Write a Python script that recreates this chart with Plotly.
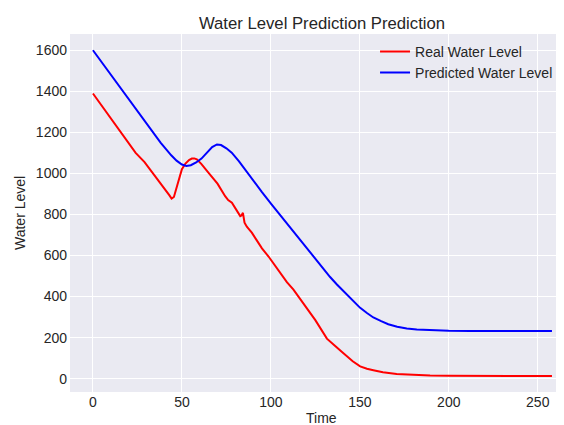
import plotly.graph_objects as go

# Real water level (time, level)
real_time = [0, 5, 10, 12.5, 16, 20, 24, 29, 35, 40, 43, 44.2, 45.5, 48, 50, 52, 54, 55.6, 57, 58.4,
             61, 65, 70, 74.3, 76, 78.1, 79, 80.5, 82.8, 83.5, 84.3, 85.2, 86.5, 88, 89.3, 92, 95,
             98.7, 102, 106, 109, 112.7, 116, 120, 125, 131.5, 133.3, 136, 140, 142.5, 146, 150.2,
             154, 157.6, 163, 170.7, 180, 189.5, 200, 212, 230, 245, 258]
real_level = [1389, 1330, 1270, 1240, 1195, 1148, 1100, 1055, 988, 932, 893, 877, 885, 960, 1020, 1048,
              1065, 1072, 1073, 1068, 1045, 1003, 950, 889, 870, 857, 845, 820, 792, 795, 808, 760,
              740, 725, 711, 675, 635, 595, 556, 505, 470, 434, 395, 345, 285, 195, 180, 160, 130,
              110, 85, 60, 48, 41, 31, 23, 18, 15, 14, 13, 13, 13, 13]

# Predicted water level (time, level)
pred_time = [0, 10, 20, 30, 38, 44, 47, 50, 52.5, 55, 58, 61, 64, 67, 69.7, 72, 75, 78, 82, 86, 89.3,
             95, 100.5, 108, 114.6, 120, 125, 131.5, 133.3, 137, 141.7, 146, 150.2, 154, 157.6, 162,
             166, 171, 176.4, 182, 189.5, 200, 212, 230, 245, 258]
pred_level = [1600, 1480, 1362, 1245, 1150, 1088, 1062, 1043, 1036, 1040, 1053, 1072, 1100, 1128, 1141,
              1138, 1122, 1101, 1060, 1013, 971, 909, 848, 767, 695, 637, 582, 513, 495, 460, 418, 382,
              345, 320, 298, 280, 265, 253, 244, 239, 236, 233, 232, 232, 232, 232]

x_ticks = [0, 50, 100, 150, 200, 250]
y_ticks = [0, 200, 400, 600, 800, 1000, 1200, 1400, 1600]

FONT = "Liberation Sans, Arial, sans-serif"
TXT = "#262626"

fig = go.Figure()
fig.add_trace(go.Scatter(x=real_time, y=real_level, mode="lines", name="Real Water Level",
                         line=dict(color="#FF0000", width=2)))
fig.add_trace(go.Scatter(x=pred_time, y=pred_level, mode="lines", name="Predicted Water Level",
                         line=dict(color="#0000FF", width=2)))

# The page body has an 8px default margin; the axes run past the right edge of the
# window, as in the reference picture (which is cropped on the right).
fig.update_layout(
    width=600, height=417,
    margin=dict(l=62, r=0, t=26, b=33),
    paper_bgcolor="white",
    plot_bgcolor="#EAEAF2",
    font=dict(family=FONT, size=14, color=TXT),
    title=dict(text="Water Level Prediction Prediction", x=0.4684, xref="paper", xanchor="center",
               y=1 - 15 / 417, yref="container", yanchor="middle",
               font=dict(size=16.7, color=TXT, family=FONT)),
    showlegend=True,
    legend=dict(x=0.567, y=0.995, xanchor="left", yanchor="top", bgcolor="rgba(0,0,0,0)",
                font=dict(size=14, color=TXT), borderwidth=0),
    xaxis=dict(range=[-12.9, 289.5], tickvals=x_ticks, ticktext=[str(v) for v in x_ticks],
               showgrid=True, gridcolor="white", gridwidth=1.4, zeroline=False, showline=False,
               ticks="", tickfont=dict(size=14, color=TXT)),
    yaxis=dict(range=[-65, 1679], tickvals=y_ticks, ticktext=[str(v) for v in y_ticks],
               showgrid=True, gridcolor="white", gridwidth=1.4, zeroline=False, showline=False,
               ticks="", ticklabelstandoff=2, tickfont=dict(size=14, color=TXT)),
    annotations=[
        dict(text="Time", x=0.4684, xref="paper", y=-0.0717, yref="paper", showarrow=False,
             xanchor="center", yanchor="middle", font=dict(size=14, color=TXT, family=FONT)),
        dict(text="Water Level", x=-0.0929, xref="paper", y=0.5, yref="paper", showarrow=False,
             textangle=-90, xanchor="center", yanchor="middle",
             font=dict(size=14, color=TXT, family=FONT)),
    ],
)

# Hide page scrollbars so the whole window width shows the chart
fig.write_html(
    "out.html",
    post_script="document.documentElement.style.overflow='hidden';"
                "document.body.style.overflow='hidden';",
)
